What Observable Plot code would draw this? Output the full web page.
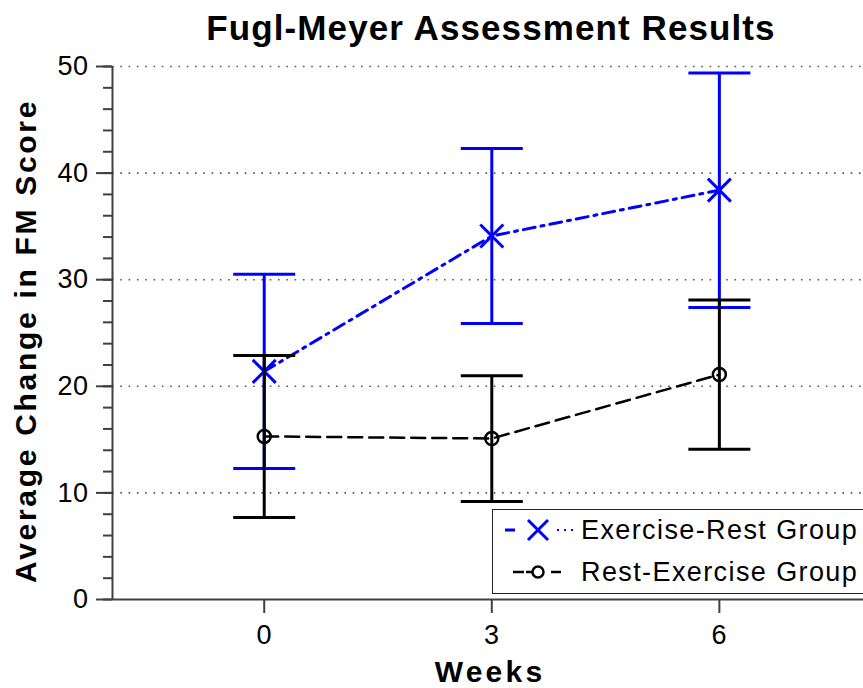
<!DOCTYPE html>
<html>
<head>
<meta charset="utf-8">
<script src="https://cdn.jsdelivr.net/npm/d3@7"></script>
<script src="https://cdn.jsdelivr.net/npm/@observablehq/plot@0.6"></script>
<style>
  html, body { margin: 0; padding: 0; background: #fff; overflow: hidden; }
  #wrap { position: relative; width: 863px; height: 688px; overflow: hidden; font-family: "Liberation Sans", Arial, sans-serif; }
  #legend { position: absolute; left: 492px; top: 509px; width: 400px; height: 85px; border: 1.5px solid #222; background: #fff; box-sizing: border-box; }
  .row { position: absolute; left: 0; height: 40px; display: flex; align-items: center; font-size: 27px; letter-spacing: 1.4px; color: #000; }
  .row svg { display: block; }
</style>
</head>
<body>
<div id="wrap">
  <div id="chart"></div>
  <div id="legend"></div>
</div>
<script>
const weeks = [0, 3, 6];
const exRestMean = [21.4, 34.1, 38.4];
const exRestErr = [9.1, 8.2, 11.0];
const restExMean = [15.3, 15.1, 21.1];
const restExErr = [7.6, 5.9, 7.0];
const seriesNames = ["Exercise-Rest Group", "Rest-Exercise Group"];
const yTicks = [0, 10, 20, 30, 40, 50];
const yGrid = [10, 20, 30, 40, 50];
const xTicks = [0, 3, 6];
const xDomain = [-2, 7.9];
const yDomain = [0, 50];
const titleText = "Fugl-Meyer Assessment Results";
const yLabel = "Average Change in FM Score";
const xLabel = "Weeks";

const blue = "#0000ff";
const black = "#000000";

function rows(means, errs) {
  return weeks.map((w, i) => ({week: w, mean: means[i], lo: means[i] - errs[i], hi: means[i] + errs[i]}));
}
const exRest = rows(exRestMean, exRestErr);
const restEx = rows(restExMean, restExErr);

const capSymbol = {draw(ctx, size) { const r = Math.sqrt(size / Math.PI); ctx.moveTo(-r, 0); ctx.lineTo(r, 0); }};
const timesSymbol = {draw(ctx, size) { const r = Math.sqrt(size / Math.PI); ctx.moveTo(-r, -r); ctx.lineTo(r, r); ctx.moveTo(-r, r); ctx.lineTo(r, -r); }};

function seriesMarks(data, color, dash, width, markerSymbol, markerR, markerW) {
  return [
    Plot.ruleX(data, {x: "week", y1: "lo", y2: "hi", stroke: color, strokeWidth: 3}),
    Plot.dot(data, {x: "week", y: "hi", symbol: capSymbol, r: 31, stroke: color, strokeWidth: 3, fill: "none"}),
    Plot.dot(data, {x: "week", y: "lo", symbol: capSymbol, r: 31, stroke: color, strokeWidth: 3, fill: "none"}),
    Plot.line(data, {x: "week", y: "mean", stroke: color, strokeWidth: width, strokeDasharray: dash}),
    Plot.dot(data, {x: "week", y: "mean", symbol: markerSymbol, r: markerR, stroke: color, strokeWidth: markerW, fill: "none"})
  ];
}

const chart = Plot.plot({
  width: 863,
  height: 688,
  marginLeft: 112,
  marginRight: 0,
  marginTop: 66,
  marginBottom: 89,
  style: {fontFamily: "'Liberation Sans', Arial, sans-serif", color: "#000", background: "#fff", overflow: "visible"},
  x: {domain: xDomain},
  y: {domain: yDomain},
  marks: [
    Plot.gridY(yGrid, {stroke: "#555", strokeOpacity: 1, strokeWidth: 1.6, strokeDasharray: "1.6,6.7"}),
    ...seriesMarks(exRest, blue, "12,6,3,6", 3, timesSymbol, 11.5, 3),
    ...seriesMarks(restEx, black, "14,7", 2.5, "circle", 6.5, 2.5),
    Plot.ruleY([yDomain[0]], {stroke: "#404040", strokeWidth: 2}),
    Plot.ruleX([xDomain[0]], {stroke: "#404040", strokeWidth: 2}),
    Plot.axisY(d3.range(0, 51, 2), {tickSize: 9, text: null, stroke: "#404040", strokeWidth: 2, label: null}),
    Plot.axisY(yTicks, {tickSize: 16, tickPadding: 8, fontSize: 27, stroke: "#404040", strokeWidth: 2, fill: "#000", label: null}),
    Plot.axisX(xTicks, {tickSize: 14, tickPadding: 11, fontSize: 27, stroke: "#404040", strokeWidth: 2, fill: "#000", label: null}),
    Plot.text([titleText], {frameAnchor: "top", textAnchor: "middle", dy: -38, dx: 3, fontSize: 35, fontWeight: "bold", fill: "#000", lineAnchor: "middle"}),
    Plot.text([yLabel], {frameAnchor: "left", textAnchor: "middle", dx: -86, dy: 8, rotate: -90, fontSize: 30, fontWeight: "bold", fill: "#000", lineAnchor: "middle"}),
    Plot.text([xLabel], {frameAnchor: "bottom", textAnchor: "middle", dy: 73, dx: 2, fontSize: 30, fontWeight: "bold", fill: "#000", lineAnchor: "middle"})
  ]
});
document.getElementById("chart").appendChild(chart);

// letter spacing to match the reference's wide type
const spacing = new Map([[titleText, 1.1], [yLabel, 2.7], [xLabel, 3.2]]);
d3.select(chart).selectAll("text").each(function() {
  const t = this.textContent;
  if (spacing.has(t)) this.style.letterSpacing = spacing.get(t) + "px";
  else this.style.letterSpacing = "0.5px";
});

// Legend
const legend = document.getElementById("legend");
const legendSpecs = [
  {name: seriesNames[0], color: blue, top: 0},
  {name: seriesNames[1], color: black, top: 42}
];
legendSpecs.forEach((s, i) => {
  const row = document.createElement("div");
  row.className = "row";
  row.style.top = s.top + "px";
  const svg = d3.create("svg").attr("width", 88).attr("height", 40);
  if (i === 0) {
    svg.append("line").attr("x1", 12).attr("x2", 22).attr("y1", 20).attr("y2", 20).attr("stroke", s.color).attr("stroke-width", 3);
    svg.append("path").attr("d", "M35,10L55,30M35,30L55,10").attr("stroke", s.color).attr("stroke-width", 3).attr("fill", "none");
    svg.append("line").attr("x1", 64).attr("x2", 80).attr("y1", 20).attr("y2", 20).attr("stroke", s.color).attr("stroke-width", 2).attr("stroke-dasharray", "2,5");
  } else {
    svg.append("line").attr("x1", 20).attr("x2", 31).attr("y1", 20).attr("y2", 20).attr("stroke", s.color).attr("stroke-width", 2.5);
    svg.append("circle").attr("cx", 45).attr("cy", 20).attr("r", 5.5).attr("stroke", s.color).attr("stroke-width", 2.5).attr("fill", "#fff");
    svg.append("line").attr("x1", 33).attr("x2", 40).attr("y1", 20).attr("y2", 20).attr("stroke", s.color).attr("stroke-width", 2.5);
    svg.append("line").attr("x1", 58).attr("x2", 68).attr("y1", 20).attr("y2", 20).attr("stroke", s.color).attr("stroke-width", 2.5);
  }
  row.appendChild(svg.node());
  const span = document.createElement("span");
  span.textContent = s.name;
  row.appendChild(span);
  legend.appendChild(row);
});
</script>
</body>
</html>
